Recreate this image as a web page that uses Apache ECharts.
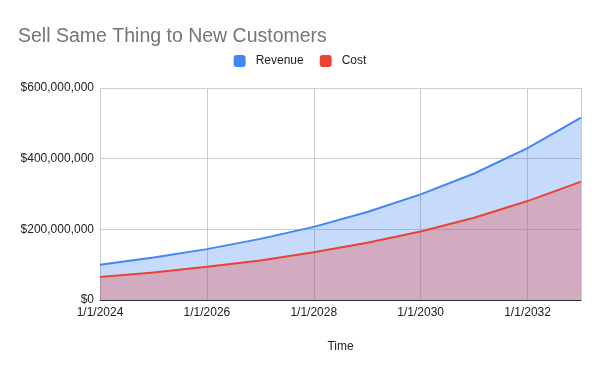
<!DOCTYPE html>
<html><head><meta charset="utf-8">
<script src="https://cdn.jsdelivr.net/npm/echarts@6/dist/echarts.min.js"></script>
<style>html,body{margin:0;padding:0;background:#fff}#c{width:600px;height:371px}</style>
</head><body><div id="c"></div>
<script>
const dates = ['1/1/2024','1/1/2025','1/1/2026','1/1/2027','1/1/2028','1/1/2029','1/1/2030','1/1/2031','1/1/2032','1/1/2033'];
const revenue = [100000000,120000000,144000000,173000000,207000000,249000000,299000000,358000000,430000000,516000000];
const cost = [65000000,78000000,94000000,112000000,135000000,162000000,194000000,233000000,280000000,335000000];
const yTicks = [0,200000000,400000000,600000000];

const yr = d => +d.split('/')[2];
const font = 'Arial, "Liberation Sans", sans-serif';
const chart = echarts.init(document.getElementById('c'), null, {renderer:'canvas'});
chart.setOption({
  animation:false,
  textStyle:{fontFamily:font},
  title:{text:'Sell Same Thing to New Customers', left:13, top:22,
    textStyle:{fontSize:19.5, fontWeight:'normal', color:'#757575', fontFamily:font}},
  legend:{top:50, left:'center', itemWidth:12, itemHeight:12, itemGap:16,
    icon:'roundRect', textStyle:{fontSize:12, color:'#222', fontFamily:font, padding:[0,0,0,5]},
    data:['Revenue','Cost']},
  grid:{left:100, right:19, top:88, bottom:71, containLabel:false},
  xAxis:{type:'value', min:yr(dates[0]), max:yr(dates[dates.length-1]), interval:2,
    name:'Time', nameLocation:'middle', nameGap:41,
    nameTextStyle:{fontSize:12, color:'#222', fontFamily:font},
    axisLine:{show:true, lineStyle:{color:'#333', width:1}},
    axisTick:{show:false},
    axisLabel:{formatter:v=>'1/1/'+v, fontSize:12, color:'#222', margin:7, showMaxLabel:false},
    splitLine:{show:true, lineStyle:{color:'#ccc'}}},
  yAxis:{type:'value', min:yTicks[0], max:yTicks[yTicks.length-1], interval:200000000,
    axisLine:{show:false}, axisTick:{show:false},
    axisLabel:{formatter:v=>'$'+v.toLocaleString('en-US'), fontSize:12, color:'#222', margin:6},
    splitLine:{lineStyle:{color:'#ccc'}}},
  series:[
    {name:'Revenue', type:'line', data:dates.map((d,i)=>[yr(d),revenue[i]]), showSymbol:false, symbol:'none',
     itemStyle:{color:'#4285F4'}, lineStyle:{width:2, color:'#4285F4'}, areaStyle:{color:'#4285F4', opacity:0.3}, z:2},
    {name:'Cost', type:'line', data:dates.map((d,i)=>[yr(d),cost[i]]), showSymbol:false, symbol:'none',
     itemStyle:{color:'#EA4335'}, lineStyle:{width:2, color:'#EA4335'}, areaStyle:{color:'#EA4335', opacity:0.3}, z:3}
  ]
});
</script></body></html>
